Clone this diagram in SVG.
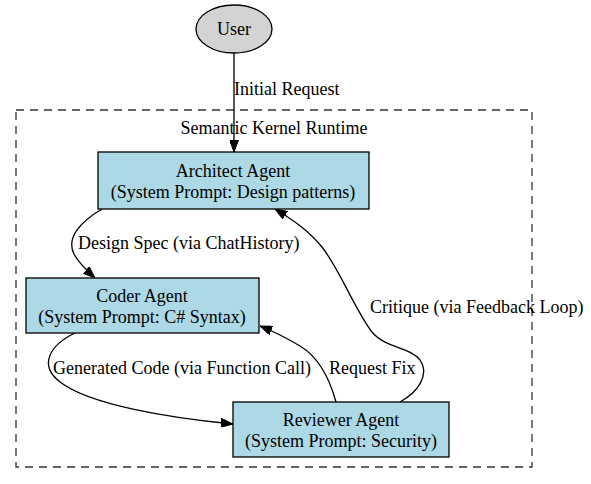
<svg xmlns="http://www.w3.org/2000/svg" width="591" height="484" viewBox="0 0 591 484">
<style>
text{font-family:"Liberation Serif","Times New Roman",serif;font-size:18px;fill:#000}
.c{text-anchor:middle}
.box{fill:#add8e6;stroke:#000;stroke-width:1.3}
.edge{fill:none;stroke:#000;stroke-width:1.3}
</style>
<defs>
<marker id="ah" markerUnits="userSpaceOnUse" markerWidth="12" markerHeight="9" refX="12" refY="4.5" orient="auto">
<path d="M0,0 L12,4.5 L0,9 z" fill="#000" stroke="#000" stroke-width="1"/>
</marker>
</defs>
<rect width="591" height="484" fill="#fff"/>
<g id="cluster">
<rect x="16" y="110" width="516" height="357" fill="none" stroke="#333" stroke-width="1.3" stroke-dasharray="8,6"/>
<text class="c" x="274" y="134">Semantic Kernel Runtime</text>
</g>
<g id="connectors">
<path class="edge" d="M234,53 L234,152" marker-end="url(#ah)"/>
<path class="edge" d="M102,209 C80,222 66,238 74,254 C78,262 84,268 95,278" marker-end="url(#ah)"/>
<path class="edge" d="M75,333 C50,345 38,365 60,382 C90,405 170,418 233,424" marker-end="url(#ah)"/>
<path class="edge" d="M336,402 C330,380 320,358 300,346 C290,340 280,334 260,326" marker-end="url(#ah)"/>
<path class="edge" d="M400,402 C418,392 430,375 420,360 C410,347 385,348 372,332 C355,310 340,270 322,247 C308,230 293,220 275,209" marker-end="url(#ah)"/>
<text x="234" y="95">Initial Request</text>
<text x="78" y="249">Design Spec (via ChatHistory)</text>
<text x="53" y="374">Generated Code (via Function Call)</text>
<text x="329" y="374">Request Fix</text>
<text x="370" y="313">Critique (via Feedback Loop)</text>
</g>
<g id="user">
<ellipse cx="234" cy="29" rx="38" ry="24" fill="#d3d3d3" stroke="#000" stroke-width="1.3"/>
<text class="c" x="234" y="35">User</text>
</g>
<g id="architect">
<rect class="box" x="98" y="152" width="271" height="57"/>
<text class="c" x="233" y="177">Architect Agent</text>
<text class="c" x="233" y="198">(System Prompt: Design patterns)</text>
</g>
<g id="coder">
<rect class="box" x="26" y="278" width="233" height="55"/>
<text class="c" x="142" y="302">Coder Agent</text>
<text class="c" x="142" y="323">(System Prompt: C# Syntax)</text>
</g>
<g id="reviewer">
<rect class="box" x="233" y="402" width="216" height="55"/>
<text class="c" x="341" y="426">Reviewer Agent</text>
<text class="c" x="341" y="447">(System Prompt: Security)</text>
</g>
</svg>
